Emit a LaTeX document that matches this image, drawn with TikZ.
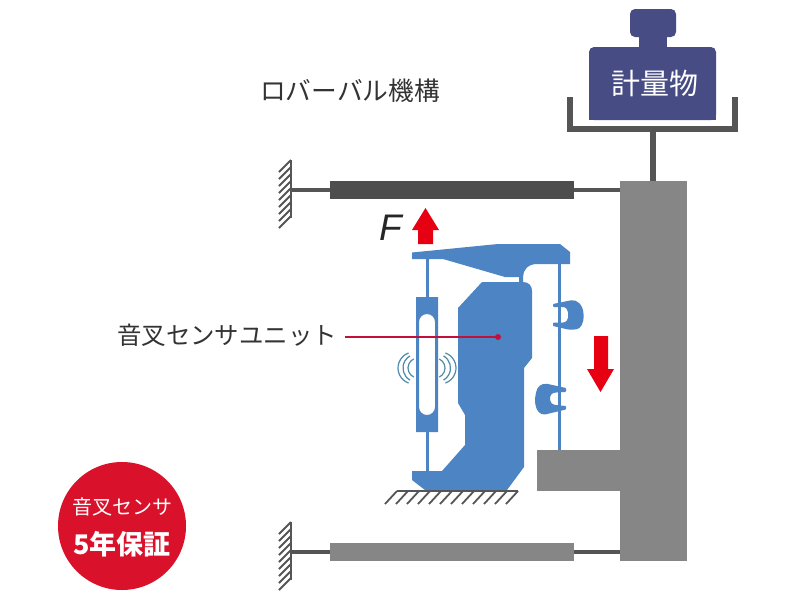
\documentclass[tikz,border=0pt]{standalone}
\usepackage{xcolor}
\usepackage{fontspec}
\setmainfont{Noto Sans CJK JP}
\newfontfamily\fitalic{Liberation Sans}
\usetikzlibrary{arrows.meta,positioning}
\definecolor{SBlue}{HTML}{4D85C4}
\definecolor{SNavy}{HTML}{474C85}
\definecolor{SRed}{HTML}{E60012}
\definecolor{SBadge}{HTML}{D9112A}
\definecolor{SLead}{HTML}{C0103C}
\definecolor{SGray}{HTML}{868686}
\definecolor{SDark}{HTML}{4D4D4D}
\definecolor{SRod}{HTML}{555555}
\definecolor{SWave}{HTML}{4D8AA8}

\begin{document}
\begin{tikzpicture}[
  x=1pt,y=-1pt,
  textlabel/.style={color=black!80,inner sep=0pt},
  block/.style={fill=SGray,draw=none},
  unit/.style={fill=SBlue,draw=none,rounded corners=0.8pt},
  rod/.style={draw=SRod,line width=3.5pt},
  bluerod/.style={draw=SBlue,line width=3pt},
  hatch/.style={draw=SRod,line width=1.8pt},
  wave/.style={draw=SWave,line width=1.2pt},
  force/.style={fill=SRed,draw=none}
]
  \useasboundingbox[fill=white] (0,0) rectangle (800,600);
  % frame and beams
  \draw[rod] (292,190) -- (620,190);
  \draw[rod] (292,552) -- (620,552);
  \fill[SDark] (330,181) rectangle (574,199);
  \fill[SGray] (330,543) rectangle (574,561);
  \draw[block] (620,181) rectangle (687,561);
  \draw[block] (537,450) rectangle (620,491);
  % walls
  \foreach \y in {160,522}{
    \draw[hatch] (291,\y) -- (291,\y+58);
    \foreach \i in {0,...,8}
      {\draw[hatch] (291,\y+\i*7) -- (279,\y+\i*7+12);}
  }
  % pan and weight
  \draw[draw=SRod,line width=6pt] (570,97) -- (570,129) -- (735,129) -- (735,97);
  \draw[draw=SRod,line width=6pt] (653,129) -- (653,181);
  \fill[SNavy,rounded corners=5pt] (630,9) rectangle (676,37);
  \fill[SNavy] (639,30) rectangle (667,50);
  \fill[SNavy,rounded corners=5pt] (589,120) -- (589,47) -- (716,47) -- (716,120) -- cycle;
  \fill[SNavy] (589,100) rectangle (716,120);
  \node[font=\fontsize{29}{29}\selectfont,color=white,inner sep=0pt] (weight) at (655,83) {計量物};
  % sensor unit
  \draw[bluerod] (427,255) -- (427,300);
  \draw[bluerod] (427,430) -- (427,473);
  \draw[bluerod] (559,260) -- (559,450);
  \fill[SBlue] (412,252.5) -- (498,244) -- (560,244) -- (570,252) -- (570,264) -- (537,264)
    .. controls (528,264) and (523,270) .. (523,277) -- (523,283) -- (519,283) -- (519,277)
    -- (505,277) -- (443,259) -- (412,259) -- cycle;
  \fill[SBlue] (482,282) -- (523,282) .. controls (529,282) and (532,286) .. (532,291)
    -- (532,358) -- (524,368) -- (524,467) -- (507,490) -- (425,490) -- (412,480) -- (412,471)
    -- (442,471) -- (465,445) -- (465,415) -- (458,403) -- (458,308) -- cycle;
  \fill[SBlue,even odd rule] (416,297) rectangle (438,432)
    (419,322) arc[start angle=180,end angle=360,radius=8] -- (435,407)
    arc[start angle=0,end angle=180,radius=8] -- cycle;
  \draw[unit] (553,304) -- (570,300.5) .. controls (577,299) and (583,305) .. (583.5,314)
    .. controls (584,323) and (581,329) .. (575,329.5) -- (568,329.5) -- (553,326) -- (553,322.5) -- (562,322.5)
    .. controls (566,322.5) and (568,320) .. (568,317) -- (568,313)
    .. controls (568,310) and (566,307) .. (562,307) -- (553,307) -- cycle;
  \draw[unit] (566,388) -- (548,384) .. controls (541,383) and (537,387) .. (536,393)
    .. controls (534,401) and (535,414) .. (545,414.5) -- (566,409.5) -- (566,406) -- (556,405)
    .. controls (552,404.5) and (550,402) .. (550,399) -- (550,398)
    .. controls (550,395) and (552,393) .. (556,392.5) -- (566,392) -- cycle;
  % base
  \draw[hatch] (397,491) -- (518,491);
  \foreach \i in {0,...,11}
    {\draw[hatch] (397+\i*11,491) -- (385+\i*11,504);}
  % vibration
  \foreach \xl/\xr/\r/\a in {398/456/16/70,403/450.5/14/60,408/445/10/65}{
    \draw[wave,shift={(\xl+\r,368)}] (180-\a:\r) arc[start angle=180-\a,end angle=180+\a,radius=\r];
    \draw[wave,shift={(\xr-\r,368)}] (-\a:\r) arc[start angle=-\a,end angle=\a,radius=\r];
  }
  % forces
  \fill[force] (418,244) -- (418,230) -- (412,230) -- (425.5,208) -- (439,230) -- (433,230) -- (433,244) -- cycle;
  \fill[force] (594,336) -- (608,336) -- (608,369) -- (614,369) -- (600.5,392) -- (587,369) -- (594,369) -- cycle;
  \node[font=\fitalic\itshape\fontsize{37}{37}\selectfont,color=black!85,inner sep=0pt] (force) at (391,228) {F};
  % labels
  \node[textlabel,font=\fontsize{25.7}{26}\selectfont] (title) at (350,91) {ロバーバル機構};
  \node[textlabel,font=\fontsize{24.4}{25}\selectfont] (unitlabel) at (227,335) {音叉センサユニット};
  \coordinate (unitdot) at (498,337);
  \draw[draw=SLead,line width=1.6pt] (345,337) -- (unitdot);
  \fill[SLead] (unitdot) circle (3);
  % badge
  \node[circle,fill=SBadge,minimum size=128pt,inner sep=0pt] (badge) at (122,526) {};
  \node[font=\fontsize{20}{20}\selectfont,color=white,inner sep=0pt] (badgetop) at (122,507) {音叉センサ};
  \node[font=\bfseries\fontsize{27}{27}\selectfont,color=white,inner sep=0pt] (badgebottom) at (122,544) {5年保証};
\end{tikzpicture}
\end{document}
